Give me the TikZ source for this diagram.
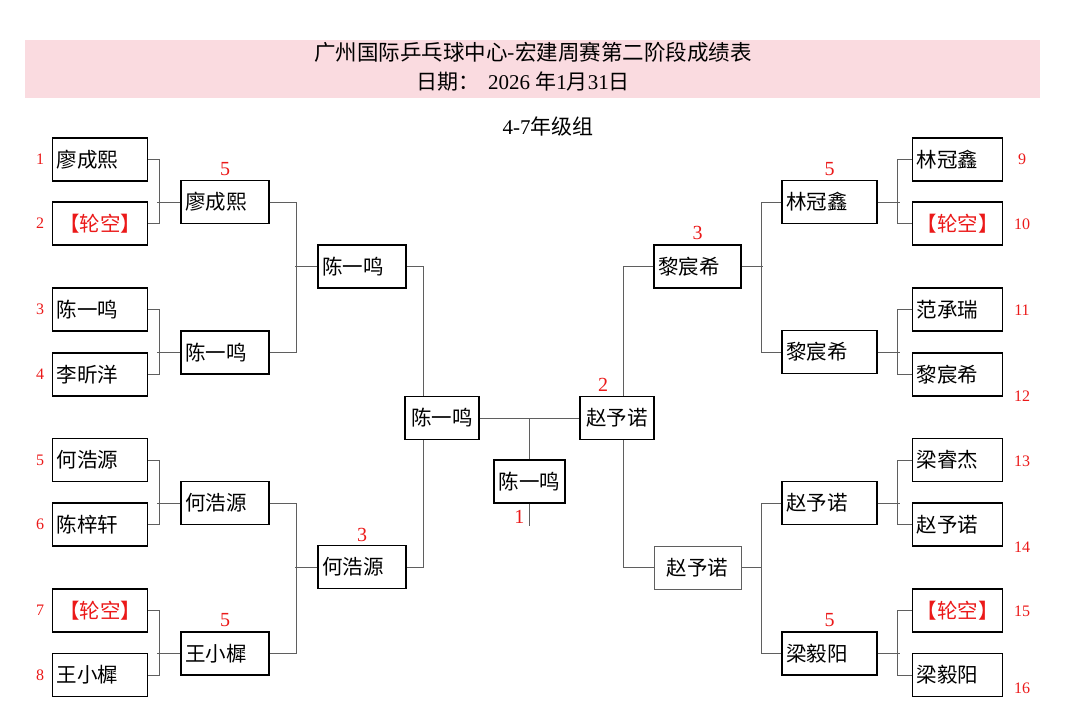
\documentclass[tikz,border=0pt]{standalone}
\usepackage{fontspec}
\setmainfont{Liberation Serif}
\newfontfamily\cjk{Noto Sans CJK SC}
\usepackage{xcolor}
\usetikzlibrary{positioning}

\definecolor{bandpink}{RGB}{250,219,224}
\definecolor{seedred}{RGB}{235,25,25}
\definecolor{linkgray}{RGB}{95,95,95}

\tikzset{
  namebox/.style={draw,line width=1.4pt,fill=white,minimum height=43pt,inner sep=0pt,inner xsep=4pt,
    text width=#1,align=left,font=\cjk\fontsize{20.5}{20.5}\selectfont},
  player/.style={},
  bye/.style={text=seedred,align=center},
  middle/.style={align=center},
  softbox/.style={draw=linkgray,line width=0.8pt,align=center},
  seed/.style={text=seedred,inner sep=0pt,font=\fontsize{16}{16}\selectfont},
  score/.style={text=seedred,inner sep=0pt,font=\fontsize{20}{20}\selectfont},
  link/.style={draw=linkgray,line width=1pt}
}

\begin{document}
\begin{tikzpicture}[x=1pt,y=-1pt]
\useasboundingbox (0,0) rectangle (1080,726);

% header band
\fill[bandpink] (25,40) rectangle (1040,98);
\node[font=\cjk\fontsize{21.5}{21.5}\selectfont] (title) at (533,52) {广州国际乒乓球中心-宏建周赛第二阶段成绩表};
\node[font=\fontsize{21}{21}\selectfont] (date) at (523,82) {{\cjk 日期：}\hspace{9pt}2026 {\cjk 年}1{\cjk 月}31{\cjk 日}};
\node[font=\fontsize{21}{21}\selectfont] (group) at (548,126) {4-7{\cjk 年级组}};

% first round
\foreach \i/\y/\s/\t in {1/159.5/player/廖成熙,2/223.5/bye/【轮空】,3/309.5/player/陈一鸣,4/374.5/player/李昕洋,
                         5/460/player/何浩源,6/524.5/player/陈梓轩,7/610.5/bye/【轮空】,8/675/player/王小樨}{
  \node[namebox=87pt,\s] (l\i) at (100,\y) {\t};
  \node[seed] (sl\i) at (40,\y) {\i};
}
\foreach \i/\y/\sy/\s/\t in {9/159.5/159.5/player/林冠鑫,10/223.5/224.5/bye/【轮空】,11/309.5/310.5/player/范承瑞,12/374.5/396/player/黎宸希,
                             13/460/461.5/player/梁睿杰,14/524.5/547/player/赵予诺,15/610.5/611/bye/【轮空】,16/675/688/player/梁毅阳}{
  \node[namebox=82pt,\s] (r\i) at (957.5,\y) {\t};
  \node[seed] (sr\i) at (1022,\sy) {\i};
}

% second round
\node[namebox=80pt] (lr1) at (225,202) {廖成熙};
\node[namebox=80pt] (lr2) at (225,352.5) {陈一鸣};
\node[namebox=80pt] (lr3) at (225,503) {何浩源};
\node[namebox=80pt] (lr4) at (225,653.5) {王小樨};
\node[namebox=87pt] (rr1) at (829.5,202) {林冠鑫};
\node[namebox=87pt] (rr2) at (829.5,352) {黎宸希};
\node[namebox=87pt] (rr3) at (829.5,503) {赵予诺};
\node[namebox=87pt] (rr4) at (829.5,653.5) {梁毅阳};

% quarter finals
\node[namebox=80pt] (lq1) at (362,266.5) {陈一鸣};
\node[namebox=80pt] (lq2) at (362,567) {何浩源};
\node[namebox=79pt] (rq1) at (697.5,266.5) {黎宸希};
\node[namebox=79pt,softbox] (rq2) at (697.5,567.5) {赵予诺};

% brackets
\foreach \a/\b/\w in {1/2/lr1,3/4/lr2,5/6/lr3,7/8/lr4}{
  \draw[link] (l\a.east) -- ++(11,0) |- (l\b.east);
  \draw[link] (\w.west) -- ++(-23,0);
}
\foreach \a/\b/\w in {9/10/rr1,11/12/rr2,13/14/rr3,15/16/rr4}{
  \draw[link] (r\a.west) -- ++(-14,0) |- (r\b.west);
  \draw[link] (\w.east) -- ++(22,0);
}
\draw[link] (lr1.east) -- ++(27,0) |- (lr2.east);
\draw[link] (lq1.west) -- ++(-22,0);
\draw[link] (lr3.east) -- ++(27,0) |- (lr4.east);
\draw[link] (lq2.west) -- ++(-22,0);
\draw[link] (rr1.west) -- ++(-20,0) |- (rr2.west);
\draw[link] (rq1.east) -- ++(21,0);
\draw[link] (rr3.west) -- ++(-20,0) |- (rr4.west);
\draw[link] (rq2.east) -- ++(21,0);
\draw[link] (lq1.east) -- ++(17,0) |- (lq2.east);
\draw[link] (rq1.west) -- ++(-30,0) |- (rq2.west);

% semi finals and final
\node[namebox=66pt,middle] (ls) at (442,418) {陈一鸣};
\node[namebox=66pt,middle] (rs) at (617,418) {赵予诺};
\node[namebox=63pt,middle] (champ) at (529.5,481.5) {陈一鸣};
\draw[link] (ls.east) -- (rs.west);
\draw[link] (champ.north) -- (champ.north |- ls.east);
\draw[link] (champ.south) -- ++(0,22);

% scores
\node[score,above=4pt of lr1] (sc1) {5};
\node[score,above=4pt of lr4] (sc2) {5};
\node[score,above=3pt of lq2] (sc3) {3};
\node[score,above=4pt of rq1] (sc4) {3};
\node[score,above=4pt of rr1] (sc5) {5};
\node[score,above=4pt of rr4] (sc6) {5};
\node[score,anchor=south] (sc7) at ([xshift=-14pt,yshift=4pt]rs.north) {2};
\node[score,anchor=north east] (sc8) at ([xshift=-5pt,yshift=-6pt]champ.south) {1};
\end{tikzpicture}
\end{document}
